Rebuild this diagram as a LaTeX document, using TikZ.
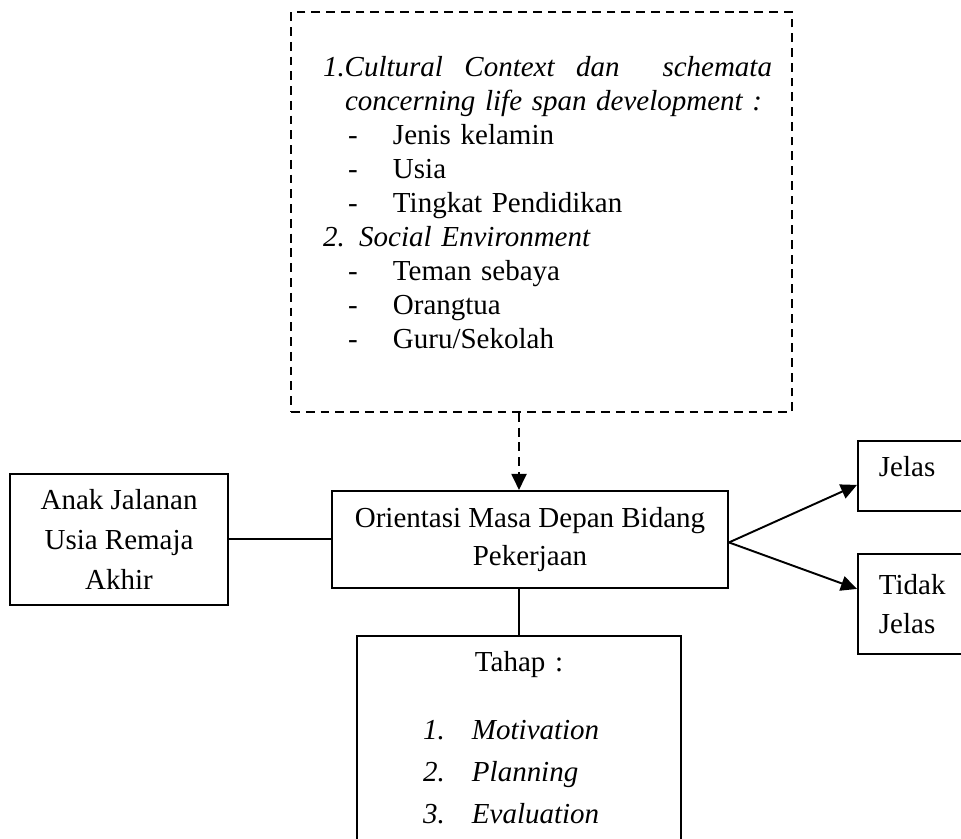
\documentclass[tikz,border=0pt]{standalone}
\usepackage{fontspec}
\setmainfont{Liberation Serif}
\usetikzlibrary{arrows.meta,positioning}

\begin{document}
\begin{tikzpicture}[
  >={Triangle[length=0.32cm,width=0.3cm]},
  line width=1.1pt,
  frame/.style={draw, inner sep=0pt, align=center, font=\fontsize{16.5}{21.6}\selectfont},
  context/.style={draw, dash pattern=on 5pt off 3.4pt, minimum width=10.02cm, minimum height=8cm, text width=9.22cm, align=left, inner sep=0pt, font=\fontsize{16.5}{19.35}\selectfont},
  answer/.style={frame, align=left, inner xsep=0.42cm, text width=1.96cm},
  dasharrow/.style={->, dash pattern=on 5pt off 3.4pt}
]
\useasboundingbox (0,0) rectangle (19.22,-16.78);
\clip (0,0) rectangle (19.22,-16.78);

\node[context] (ctx) at (10.83,-4.24) {%
  \hspace*{0.24cm}\makebox[8.98cm][l]{\itshape 1.Cultural\hfill Context\hfill dan\hfill\hfill schemata}\\
  \hspace*{0.68cm}\textit{concerning life span development :}\\
  \hspace*{0.74cm}\makebox[0.9cm][l]{-}Jenis kelamin\\
  \hspace*{0.74cm}\makebox[0.9cm][l]{-}Usia\\
  \hspace*{0.74cm}\makebox[0.9cm][l]{-}Tingkat Pendidikan\\
  \hspace*{0.24cm}\textit{2. Social Environment}\\
  \hspace*{0.74cm}\makebox[0.9cm][l]{-}Teman sebaya\\
  \hspace*{0.74cm}\makebox[0.9cm][l]{-}Orangtua\\
  \hspace*{0.74cm}\makebox[0.9cm][l]{-}Guru/Sekolah\\[-0.28cm]\mbox{}};

\node[frame, below=1.54cm of ctx, xshift=-0.23cm, minimum width=7.92cm, minimum height=1.94cm] (oms)
  {Orientasi Masa Depan Bidang\\Pekerjaan};
\coordinate (stem) at ([xshift=-0.22cm]oms.center);

\node[frame, left=2.04cm of oms, minimum width=4.36cm, minimum height=2.62cm, font=\fontsize{16.5}{22.8}\selectfont] (anak)
  {Anak Jalanan\\Usia Remaja\\Akhir};

\node[answer, right=2.56cm of oms, yshift=1.27cm, minimum height=1.4cm, text depth=0.36cm] (jelas) {Jelas};
\node[answer, right=2.56cm of oms, yshift=-1.29cm, minimum height=2cm, font=\fontsize{16.5}{22.2}\selectfont] (tidak) {Tidak\\Jelas};

\node[frame, below=0.92cm of oms, xshift=-0.22cm, minimum width=6.48cm, text width=3.84cm, inner ysep=0.32cm, font=\fontsize{16.5}{23.9}\selectfont] (tahap)
  {Tahap :\\[14.8pt]
   \makebox[3.84cm][l]{\makebox[0.98cm][l]{\textit{1.}}\textit{Motivation}}\\
   \makebox[3.84cm][l]{\makebox[0.98cm][l]{\textit{2.}}\textit{Planning}}\\
   \makebox[3.84cm][l]{\makebox[0.98cm][l]{\textit{3.}}\textit{Evaluation}}\\[1cm]\mbox{}};

\draw[dasharrow] (stem |- ctx.south) -- (stem |- oms.north);
\draw (anak.east) -- (oms.west);
\draw[->] ([yshift=-0.06cm]oms.east) -- ([yshift=-0.18cm]jelas.west);
\draw[->] ([yshift=-0.06cm]oms.east) -- ([yshift=0.3cm]tidak.west);
\draw (stem |- oms.south) -- (stem |- tahap.north);

\end{tikzpicture}
\end{document}
